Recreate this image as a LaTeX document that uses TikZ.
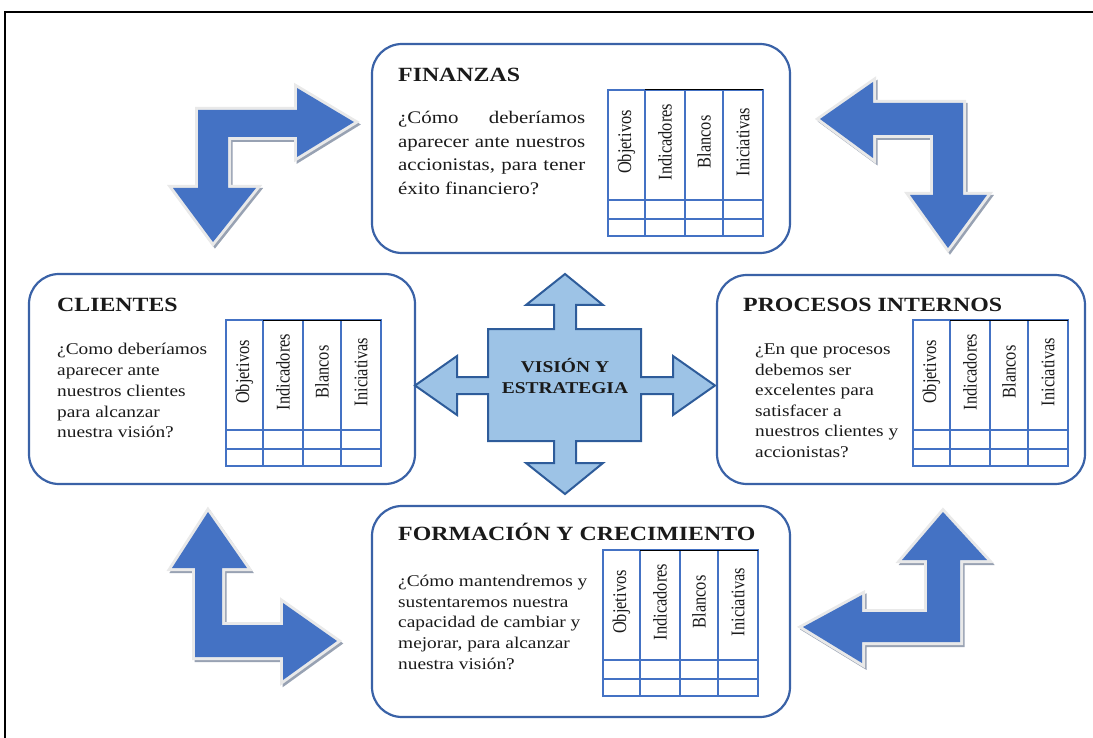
\documentclass[tikz,border=0pt]{standalone}
\usepackage{fontspec}
\setmainfont{Liberation Serif}[FakeStretch=1.18]
\newfontfamily\rotfont{Liberation Serif}
\usepackage{graphicx}
\definecolor{panelblue}{HTML}{3A62A7}
\definecolor{tabblue}{HTML}{4472C4}
\definecolor{arrowblue}{HTML}{4472C4}
\definecolor{bevelgray}{HTML}{E9E9E9}
\definecolor{shadowgray}{HTML}{98A2B3}
\definecolor{quadfill}{HTML}{9DC3E6}
\definecolor{quadline}{HTML}{2E5C9A}
\definecolor{txt}{HTML}{1A1A1A}
\newcommand{\ct}[1]{\scalebox{1}[1.18]{#1}}
\newcommand{\bentarrow}[1]{%
  \draw[draw=shadowgray, line width=5pt, shift={(2,2.5)}] #1;
  \draw[draw=bevelgray, line width=6pt] #1;
  \fill[arrowblue] #1;}
\newcommand{\kpitab}[3]{%
  \begin{scope}[shift={(#2,#3)}]
    \draw[tabline] (0,0) rectangle (155,146);
    \draw[tabline] (0,110) -- (155,110) (0,129) -- (155,129);
    \draw[tabline] (37,0) -- (37,146) (77,0) -- (77,146) (115,0) -- (115,146);
    \draw[black, line width=1pt] (37,0) -- (155,0);
    \node[coltext] (#1-obj) at (18.5,52) {\ct{Objetivos}};
    \node[coltext] (#1-ind) at (57,52) {\ct{Indicadores}};
    \node[coltext] (#1-bla) at (96,52) {\ct{Blancos}};
    \node[coltext] (#1-ini) at (135,52) {\ct{Iniciativas}};
  \end{scope}}
\begin{document}
\begin{tikzpicture}[x=1pt,y=-1pt,
  panel/.style={draw=panelblue, line width=2.2pt, rounded corners=30pt, fill=white, inner sep=0},
  title/.style={anchor=base west, inner sep=0, font=\bfseries\fontsize{20.2}{24}\selectfont, text=txt},
  body/.style={anchor=base west, inner sep=0, font=\fontsize{16.4}{20}\selectfont, text=txt},
  finbody/.style={anchor=base west, inner sep=0, font=\fontsize{17.7}{22}\selectfont, text=txt},
  tabline/.style={draw=tabblue, line width=1.1pt},
  coltext/.style={rotate=90, inner sep=0, font=\rotfont\fontsize{16.4}{18}\selectfont, text=txt},
  quad/.style={fill=quadfill, draw=quadline, line width=2pt, line join=miter},
  vistext/.style={anchor=base, inner sep=0, font=\bfseries\fontsize{16.5}{20}\selectfont, text=txt}]
\useasboundingbox (0,0) rectangle (1093,738);
% outer frame
\draw[black, line width=1.8pt] (5,760) -- (5,12) -- (1110,12);

% bent arrows
\bentarrow{(198,110) -- (297,110) -- (297,88) -- (354,122) -- (297,157) -- (297,137) -- (228,137) -- (228,188) -- (256,188) -- (213,242) -- (173,188) -- (198,188) -- cycle}
\bentarrow{(820,119) -- (873,82) -- (873,103) -- (963,103) -- (963,195) -- (987,195) -- (948,248) -- (910,195) -- (933,195) -- (933,135) -- (873,135) -- (873,158) -- cycle}
\bentarrow{(208,512) -- (247,568) -- (222,568) -- (222,625) -- (283,625) -- (283,603) -- (337,641) -- (283,680) -- (283,657) -- (195,657) -- (195,568) -- (172,568) -- cycle}
\bentarrow{(943,512) -- (987,560) -- (960,560) -- (960,642) -- (862,642) -- (862,663) -- (803,627) -- (862,595) -- (862,612) -- (927,612) -- (927,560) -- (902,560) -- cycle}

% panels
\node[panel, minimum width=418pt, minimum height=209pt] (fin) at (581,148.5) {};
\node[panel, minimum width=386pt, minimum height=210pt] (cli) at (222,379) {};
\node[panel, minimum width=368pt, minimum height=209pt] (pro) at (901,379.5) {};
\node[panel, minimum width=418pt, minimum height=211pt] (for) at (581,611.5) {};

% central quad arrow
\draw[quad] (565,274) -- (603,305) -- (576,305) -- (576,329) -- (641,329) -- (641,377) -- (673,377) -- (673,356) -- (715,385.5) -- (673,415) -- (673,394) -- (641,394) -- (641,441) -- (576,441) -- (576,463) -- (603,463) -- (565,494) -- (526,463) -- (554,463) -- (554,441) -- (488,441) -- (488,394) -- (457,394) -- (457,415) -- (415,385.5) -- (457,356) -- (457,377) -- (488,377) -- (488,329) -- (554,329) -- (554,305) -- (526,305) -- cycle;
\node[vistext] (vis1) at (565,372) {VISIÓN Y};
\node[vistext] (vis2) at (565,393) {ESTRATEGIA};

% tables
\kpitab{tf}{608}{90}
\kpitab{tc}{226}{320}
\kpitab{tp}{913}{320}
\kpitab{tr}{603}{550}

% FINANZAS
\node[title] (fin-t) at (398,82) {FINANZAS};
\node[finbody] (fin-1) at (398,124) {\makebox[187pt][s]{¿Cómo deberíamos}};
\node[finbody] (fin-2) at (398,147.5) {\makebox[187pt][s]{aparecer ante nuestros}};
\node[finbody] (fin-3) at (398,171) {\makebox[187pt][s]{accionistas, para tener}};
\node[finbody] (fin-4) at (398,194.5) {éxito financiero?};

% CLIENTES
\node[title] (cli-t) at (57,312) {CLIENTES};
\node[body] (cli-1) at (57,354) {¿Como deberíamos};
\node[body] (cli-2) at (57,375) {aparecer ante};
\node[body] (cli-3) at (57,396) {nuestros clientes};
\node[body] (cli-4) at (57,417) {para alcanzar};
\node[body] (cli-5) at (57,437) {nuestra visión?};

% PROCESOS INTERNOS
\node[title] (pro-t) at (743,312) {PROCESOS INTERNOS};
\node[body] (pro-1) at (755,354.5) {¿En que procesos};
\node[body] (pro-2) at (755,375) {debemos ser};
\node[body] (pro-3) at (755,395.5) {excelentes para};
\node[body] (pro-4) at (755,416) {satisfacer a};
\node[body] (pro-5) at (755,436.5) {nuestros clientes y};
\node[body] (pro-6) at (755,457) {accionistas?};

% FORMACION
\node[title] (for-t) at (398,540) {FORMACIÓN Y CRECIMIENTO};
\node[body] (for-1) at (398,586) {¿Cómo mantendremos y};
\node[body] (for-2) at (398,607) {sustentaremos nuestra};
\node[body] (for-3) at (398,627.5) {capacidad de cambiar y};
\node[body] (for-4) at (398,648) {mejorar, para alcanzar};
\node[body] (for-5) at (398,669) {nuestra visión?};
\end{tikzpicture}
\end{document}
